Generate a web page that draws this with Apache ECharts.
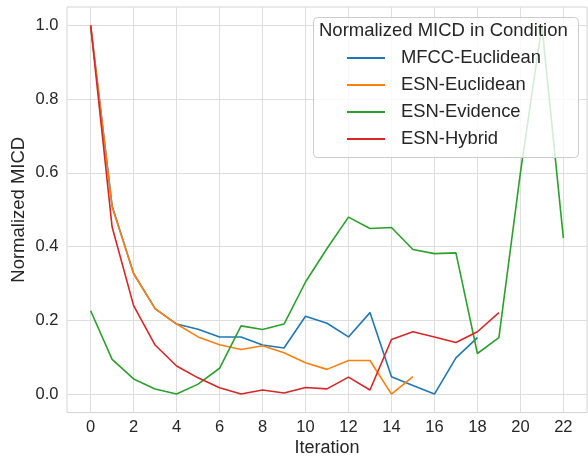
<!DOCTYPE html>
<html><head><meta charset="utf-8">
<script src="https://cdn.jsdelivr.net/npm/echarts@6/dist/echarts.min.js"></script>
<style>html,body{margin:0;padding:0;background:#fff}#c{width:588px;height:457px}</style>
</head><body><div id="c"></div>
<script>
const xTicks = [0, 2, 4, 6, 8, 10, 12, 14, 16, 18, 20, 22];
const yTicks = [0, 0.2, 0.4, 0.6, 0.8, 1.0];
const seriesNames = ['MFCC-Euclidean', 'ESN-Euclidean', 'ESN-Evidence', 'ESN-Hybrid'];
const mfccEuclidean = [1.0, 0.51, 0.327, 0.232, 0.19, 0.176, 0.155, 0.155, 0.133, 0.125, 0.211, 0.192, 0.155, 0.221, 0.047, 0.023, 0.0, 0.098, 0.153];
const esnEuclidean = [1.0, 0.508, 0.327, 0.232, 0.19, 0.155, 0.134, 0.121, 0.131, 0.112, 0.085, 0.067, 0.091, 0.091, 0.0, 0.047];
const esnEvidence = [0.226, 0.094, 0.041, 0.014, 0.0, 0.027, 0.07, 0.185, 0.175, 0.19, 0.304, 0.395, 0.48, 0.449, 0.452, 0.392, 0.381, 0.383, 0.11, 0.153, 0.6, 1.0, 0.423];
const esnHybrid = [1.0, 0.453, 0.24, 0.133, 0.076, 0.044, 0.017, 0.0, 0.011, 0.003, 0.018, 0.014, 0.046, 0.011, 0.148, 0.169, 0.155, 0.14, 0.169, 0.221];
const colors = ['#1f77b4', '#ff7f0e', '#2ca02c', '#d62728'];
const allData = [mfccEuclidean, esnEuclidean, esnEvidence, esnHybrid];

const FONT = '"Liberation Sans", Arial, sans-serif';
const TXT = '#262626';
const chart = echarts.init(document.getElementById('c'), null, {renderer: 'canvas'});
chart.setOption({
  animation: false,
  color: colors,
  grid: {left: 67, top: 7, right: 1, bottom: 44.5, show: true, borderColor: '#d4d4d4', borderWidth: 1,
         containLabel: false, outerBoundsMode: 'none'},
  xAxis: {
    type: 'value', min: -1.1, max: 23.1,
    name: 'Iteration', nameLocation: 'middle', nameGap: 27, nameMoveOverlap: false,
    nameTextStyle: {fontFamily: FONT, fontSize: 18, color: TXT},
    axisLine: {show: false},
    axisTick: {show: false, customValues: xTicks},
    axisLabel: {customValues: xTicks, fontFamily: FONT, fontSize: 16.5, color: TXT, margin: 6, formatter: v => String(v)},
    splitLine: {show: true, lineStyle: {color: '#dedede', width: 1}}
  },
  yAxis: {
    type: 'value', min: -0.05, max: 1.05,
    name: 'Normalized MICD', nameLocation: 'middle', nameGap: 39, nameMoveOverlap: false,
    nameTextStyle: {fontFamily: FONT, fontSize: 18.5, color: TXT},
    axisLine: {show: false},
    axisTick: {show: false, customValues: yTicks},
    axisLabel: {customValues: yTicks, fontFamily: FONT, fontSize: 16.5, color: TXT, margin: 8.5, formatter: v => v.toFixed(1)},
    splitLine: {show: true, lineStyle: {color: '#dedede', width: 1}}
  },
  legend: {
    orient: 'vertical', left: 342, top: 43, z: 30,
    itemWidth: 38, itemHeight: 2, itemGap: 7, icon: 'rect',
    data: seriesNames,
    textStyle: {fontFamily: FONT, fontSize: 18.4, color: TXT, lineHeight: 20, padding: [0, 0, 0, 11]}
  },
  graphic: [
    {type: 'rect', z: 20, shape: {x: 313.5, y: 17.5, width: 265, height: 140, r: 4},
     style: {fill: 'rgba(255,255,255,0.8)', stroke: '#cccccc', lineWidth: 1}},
    {type: 'text', z: 30, x: 319, y: 31,
     style: {text: 'Normalized MICD in Condition', font: '18.5px "Liberation Sans", Arial, sans-serif', fill: TXT, verticalAlign: 'middle'}}
  ],
  series: allData.map((arr, i) => ({
    name: seriesNames[i], type: 'line', symbol: 'none', z: 2,
    lineStyle: {width: 1.6, color: colors[i]},
    data: arr.map((v, k) => [k, v])
  }))
});
</script></body></html>
